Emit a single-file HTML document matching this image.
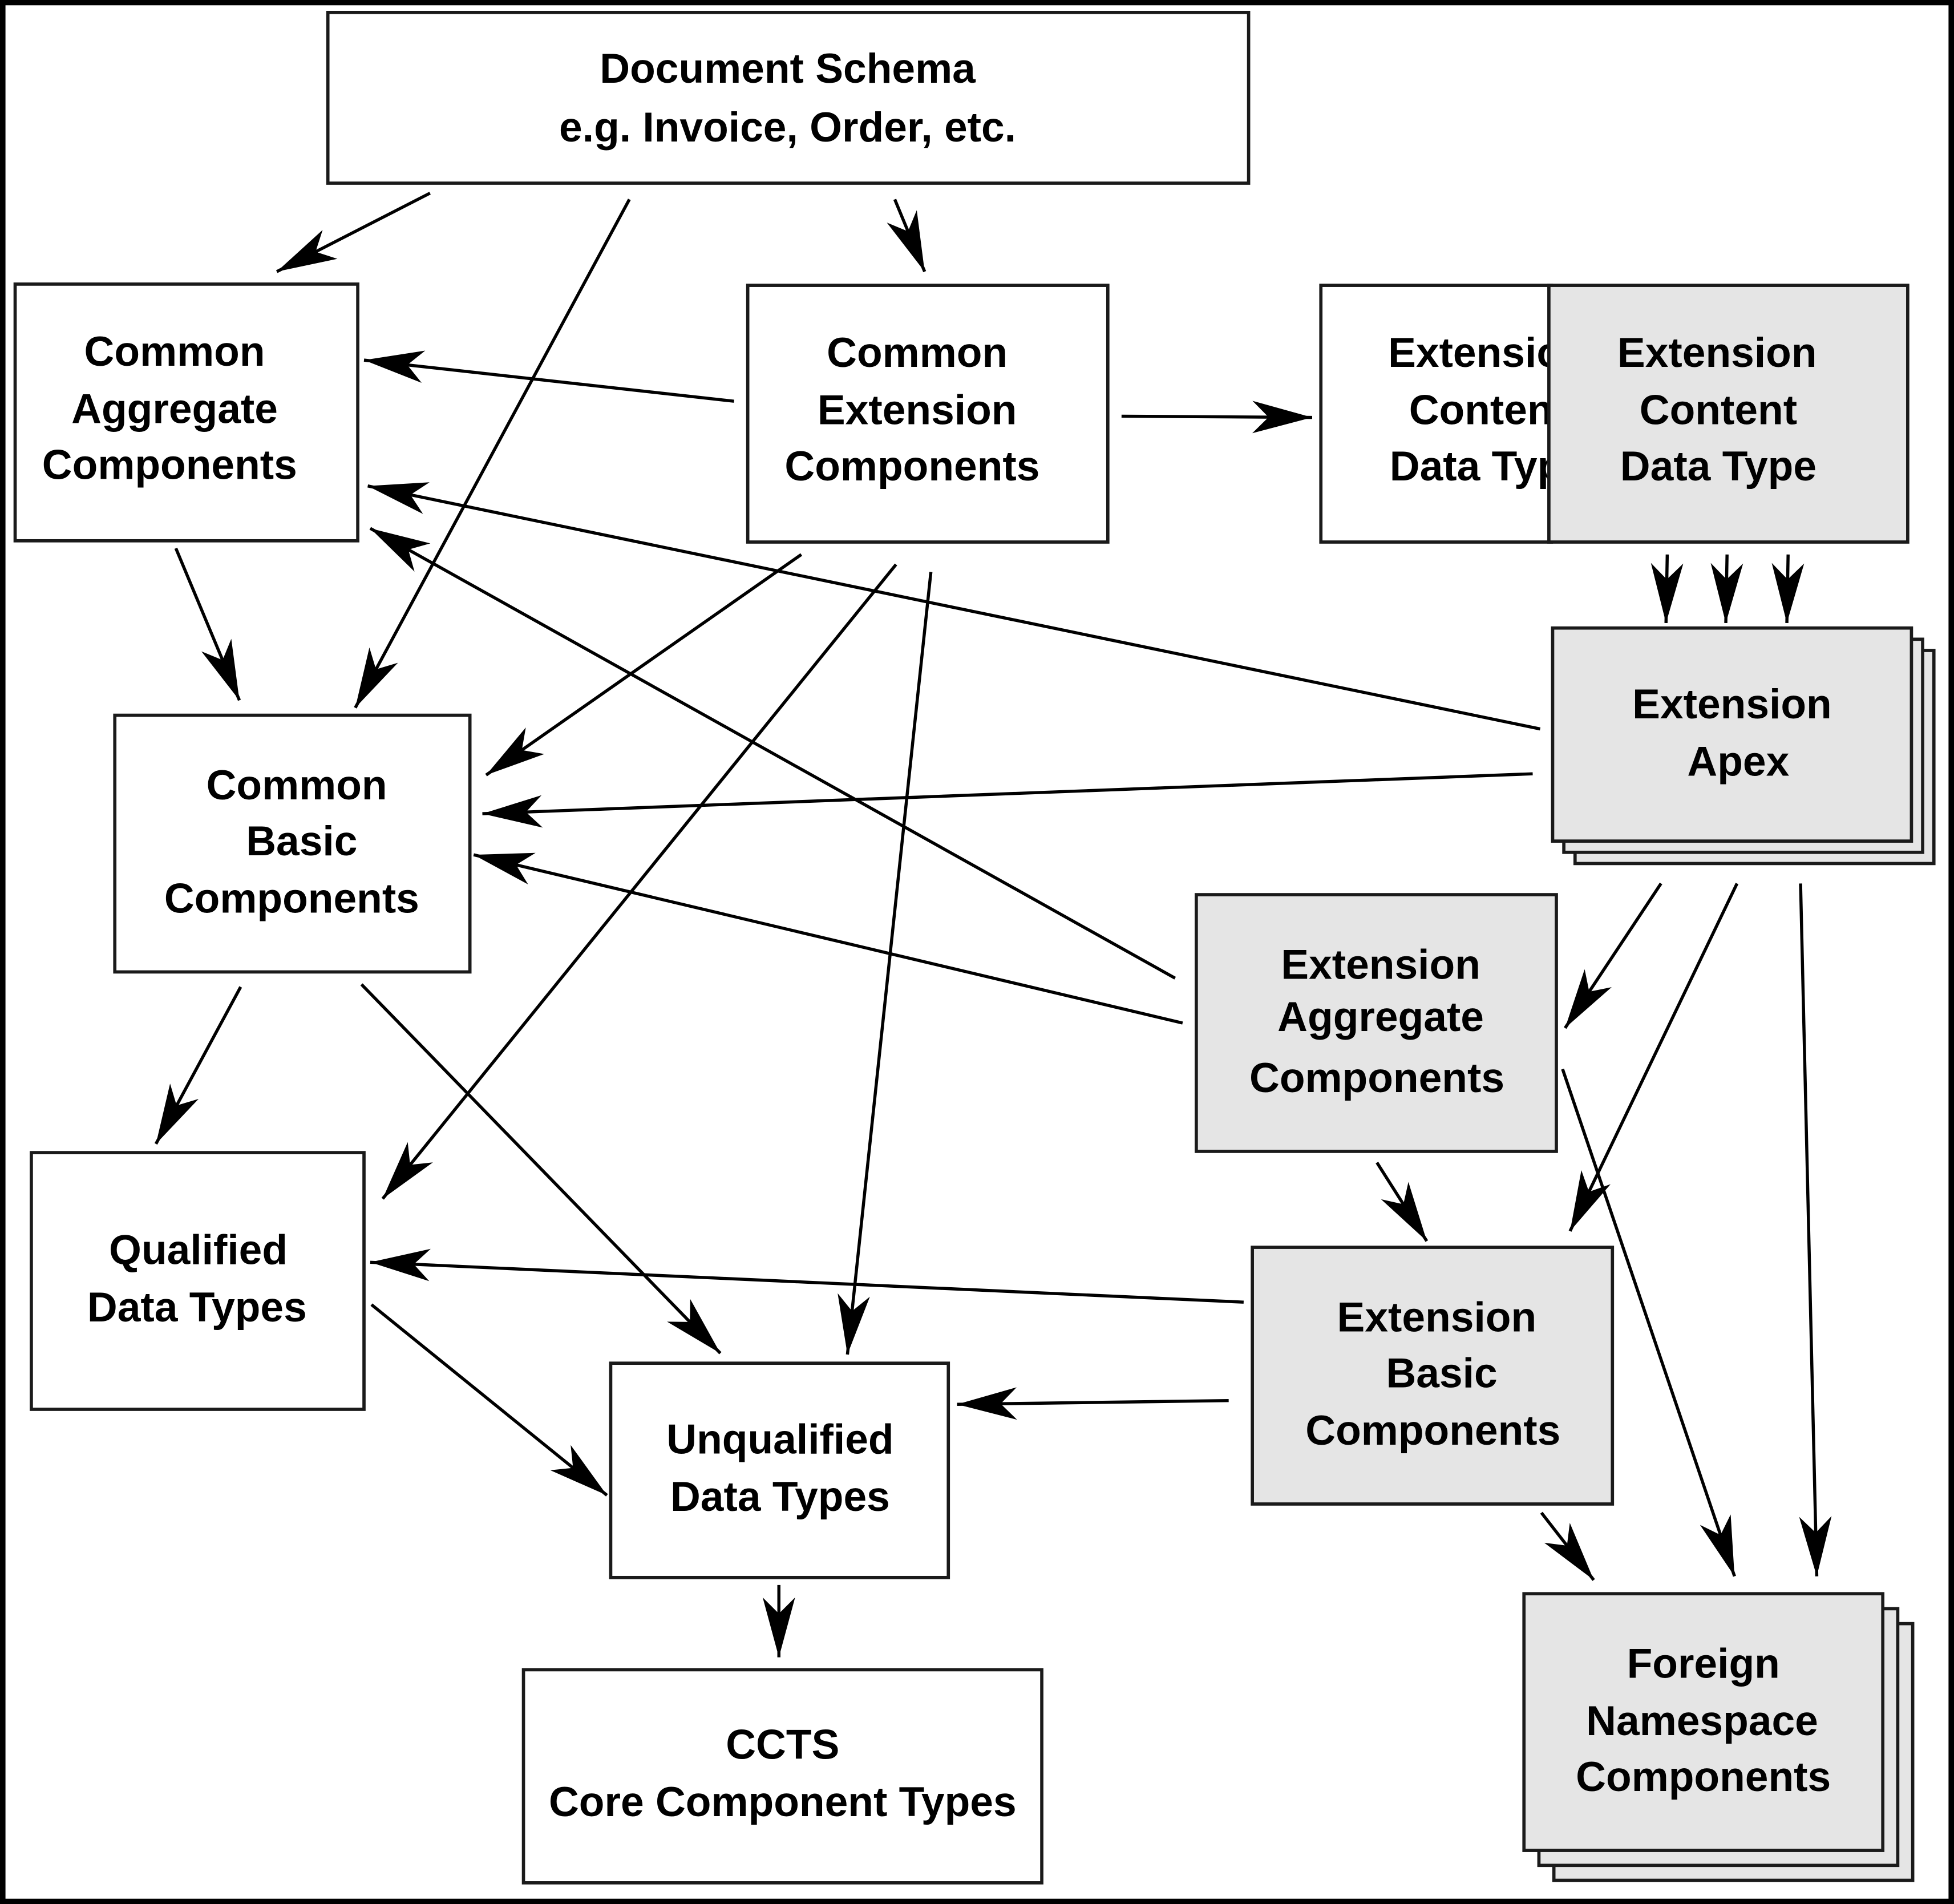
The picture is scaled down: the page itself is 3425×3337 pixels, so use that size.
<!DOCTYPE html>
<html><head><meta charset="utf-8"><style>html,body{margin:0;padding:0;background:#fff}svg{display:block}</style></head>
<body>
<svg xmlns="http://www.w3.org/2000/svg" width="3425" height="3337" viewBox="0 0 1568 1528">
<defs>
<marker id="a" markerUnits="userSpaceOnUse" markerWidth="60" markerHeight="40" viewBox="-55 -20 60 40" refX="0" refY="0" orient="auto">
<path d="M0,0 L-48,-13 L-35,0 L-48,13 Z" fill="#000"/>
</marker>
</defs>
<rect x="2" y="2" width="1564" height="1524" fill="#fff" stroke="#000" stroke-width="4.5"/>
<g fill="#fff" stroke="#1a1a1a" stroke-width="2.6">
<rect x="263" y="10" width="739" height="137"/>
<rect x="12" y="228" width="275" height="206"/>
<rect x="600" y="229" width="289" height="206"/>
<rect x="1060" y="229" width="185" height="206"/>
<rect x="92" y="574" width="285" height="206"/>
<rect x="25" y="925" width="267" height="206"/>
<rect x="490" y="1094" width="271" height="172"/>
<rect x="420" y="1340" width="416" height="171"/>
</g>
<g font-family="'Liberation Sans',Arial,sans-serif" font-weight="bold" font-size="33.5" text-anchor="middle" dominant-baseline="central" fill="#000">
<text x="632" y="55">Document Schema</text><text x="632" y="102">e.g. Invoice, Order, etc.</text>
<text x="140" y="282">Common</text><text x="140" y="328">Aggregate</text><text x="136" y="373">Components</text>
<text x="736" y="283">Common</text><text x="736" y="329">Extension</text><text x="732" y="374">Components</text>
<text x="1194" y="283">Extension</text><text x="1194" y="329">Content</text><text x="1194" y="374">Data Type</text>
<text x="238" y="630">Common</text><text x="242" y="675">Basic</text><text x="234" y="721">Components</text>
<text x="159" y="1003">Qualified</text><text x="158" y="1049">Data Types</text>
<text x="626" y="1155">Unqualified</text><text x="626" y="1201">Data Types</text>
<text x="628" y="1400">CCTS</text><text x="628" y="1446">Core Component Types</text>
</g>
<g fill="#e5e5e5" stroke="#1a1a1a" stroke-width="2.6">
<rect x="1243" y="229" width="288" height="206"/>
<rect x="1264" y="522" width="288" height="171"/>
<rect x="1255" y="513" width="288" height="171"/>
<rect x="1246" y="504" width="288" height="171"/>
<rect x="960" y="718" width="289" height="206"/>
<rect x="1005" y="1001" width="289" height="206"/>
<rect x="1247" y="1303" width="288" height="206"/>
<rect x="1235" y="1291" width="288" height="206"/>
<rect x="1223" y="1279" width="288" height="206"/>
</g>
<g font-family="'Liberation Sans',Arial,sans-serif" font-weight="bold" font-size="33.5" text-anchor="middle" dominant-baseline="central" fill="#000">
<text x="1378" y="283">Extension</text><text x="1379" y="329">Content</text><text x="1379" y="374">Data Type</text>
<text x="1390" y="565">Extension</text><text x="1395" y="611">Apex</text>
<text x="1108" y="774">Extension</text><text x="1108" y="816">Aggregate</text><text x="1105" y="865">Components</text>
<text x="1153" y="1057">Extension</text><text x="1157" y="1102">Basic</text><text x="1150" y="1148">Components</text>
<text x="1367" y="1335">Foreign</text><text x="1366" y="1381">Namespace</text><text x="1367" y="1426">Components</text>
</g>
<g stroke="#000" stroke-width="2.5" fill="none" marker-end="url(#a)">
<line x1="345" y1="155" x2="222" y2="218"/>
<line x1="505" y1="160" x2="285" y2="568"/>
<line x1="718" y1="160" x2="742" y2="218"/>
<line x1="589" y1="322" x2="292" y2="289"/>
<line x1="900" y1="334" x2="1053" y2="335"/>
<line x1="1236" y1="585" x2="295" y2="390"/>
<line x1="943" y1="785" x2="297" y2="424"/>
<line x1="1230" y1="621" x2="387" y2="653"/>
<line x1="949" y1="821" x2="380" y2="686"/>
<line x1="643" y1="445" x2="390" y2="622"/>
<line x1="719" y1="453" x2="307" y2="962"/>
<line x1="747" y1="459" x2="680" y2="1087"/>
<line x1="141" y1="440" x2="192" y2="562"/>
<line x1="193" y1="792" x2="125" y2="918"/>
<line x1="290" y1="790" x2="578" y2="1086"/>
<line x1="298" y1="1047" x2="487" y2="1200"/>
<line x1="998" y1="1045" x2="297" y2="1013"/>
<line x1="986" y1="1124" x2="768" y2="1127"/>
<line x1="625" y1="1272" x2="625" y2="1330"/>
<line x1="1338" y1="445" x2="1337" y2="500"/>
<line x1="1386" y1="445" x2="1385" y2="500"/>
<line x1="1435" y1="445" x2="1434" y2="500"/>
<line x1="1333" y1="709" x2="1256" y2="825"/>
<line x1="1394" y1="709" x2="1260" y2="988"/>
<line x1="1445" y1="709" x2="1458" y2="1265"/>
<line x1="1105" y1="933" x2="1145" y2="996"/>
<line x1="1254" y1="858" x2="1392" y2="1265"/>
<line x1="1237" y1="1214" x2="1279" y2="1268"/>
</g>
</svg>
</body></html>
